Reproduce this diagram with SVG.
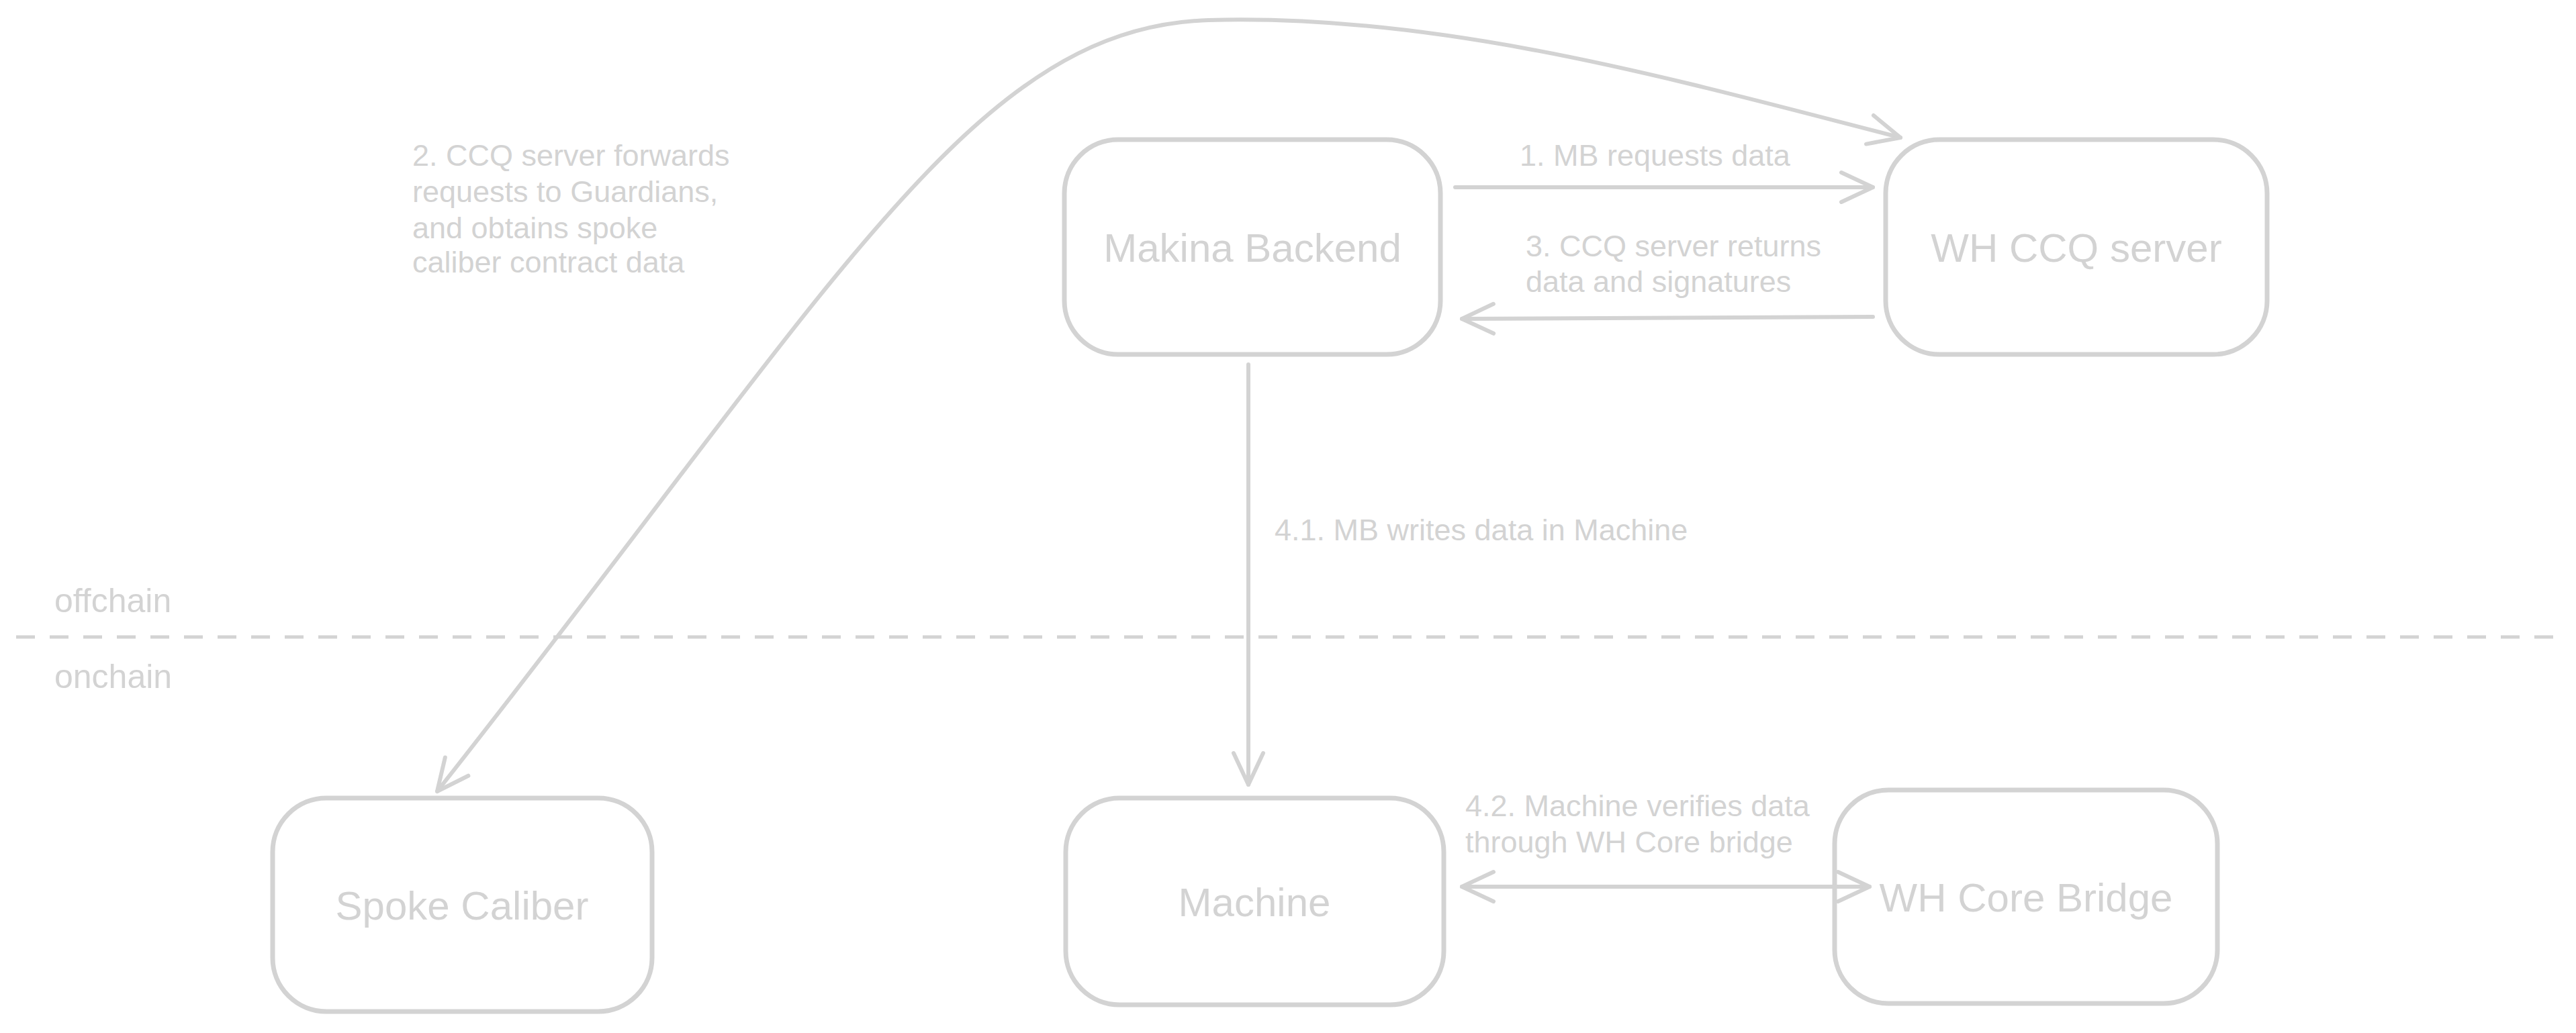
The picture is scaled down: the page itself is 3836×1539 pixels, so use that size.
<svg xmlns="http://www.w3.org/2000/svg" width="3836" height="1539" viewBox="0 0 3836 1539">
<style>
.box{fill:none;stroke:#d3d3d3;stroke-width:7}
.ln{fill:none;stroke:#d3d3d3;stroke-width:6;stroke-linecap:round}
.t{font-family:"Liberation Sans",sans-serif;fill:#d3d3d3}
.n{font-size:60px;text-anchor:middle}
.l{font-size:45px}
</style>
<defs>
<marker id="ah" viewBox="0 0 60 60" refX="55" refY="30" markerWidth="60" markerHeight="60" markerUnits="userSpaceOnUse" orient="auto-start-reverse"><path d="M8,8 L55,30 L8,52" fill="none" stroke="#d3d3d3" stroke-width="6" stroke-linecap="round" stroke-linejoin="round"/></marker>
</defs>
<rect width="3836" height="1539" fill="#fff"/>
<line x1="24" y1="949" x2="3811" y2="949" stroke="#d3d3d3" stroke-width="5" stroke-dasharray="28,22"/>
<text class="t" x="81" y="912" font-size="50">offchain</text>
<text class="t" x="81" y="1025" font-size="50">onchain</text>
<g id="connectors">
<path class="ln" d="M2167,279 L2789,279" marker-end="url(#ah)"/>
<path class="ln" d="M2789,472 L2177,475" marker-end="url(#ah)"/>
<path class="ln" d="M1859,543 L1859,1169" marker-end="url(#ah)"/>
<path class="ln" d="M2177,1321 L2784,1321" marker-start="url(#ah)" marker-end="url(#ah)"/>
<path class="ln" d="M2830,205 C2500,120 2150,20 1800,30 C1450,40 1250,420 651,1179" marker-start="url(#ah)" marker-end="url(#ah)"/>
<text class="t l" x="2263" y="247">1. MB requests data</text>
<text class="t l" x="2272" y="382">3. CCQ server returns</text>
<text class="t l" x="2272" y="435">data and signatures</text>
<text class="t l" x="1898" y="805">4.1. MB writes data in Machine</text>
<text class="t l" x="2182" y="1216">4.2. Machine verifies data</text>
<text class="t l" x="2182" y="1270">through WH Core bridge</text>
<text class="t l" x="614" y="247">2. CCQ server forwards</text>
<text class="t l" x="614" y="301">requests to Guardians,</text>
<text class="t l" x="614" y="355">and obtains spoke</text>
<text class="t l" x="614" y="406">caliber contract data</text>
</g>
<g id="makina"><rect class="box" x="1585" y="208" width="560" height="320" rx="80"/><text class="t n" x="1865" y="390">Makina Backend</text></g>
<g id="ccq"><rect class="box" x="2808" y="208" width="568" height="320" rx="80"/><text class="t n" x="3092" y="390">WH CCQ server</text></g>
<g id="spoke"><rect class="box" x="406" y="1189" width="565" height="318" rx="80"/><text class="t n" x="688" y="1370">Spoke Caliber</text></g>
<g id="machine"><rect class="box" x="1587" y="1189" width="563" height="308" rx="80"/><text class="t n" x="1868" y="1365">Machine</text></g>
<g id="bridge"><rect class="box" x="2732" y="1177" width="570" height="318" rx="80"/><text class="t n" x="3017" y="1358">WH Core Bridge</text></g>
</svg>
